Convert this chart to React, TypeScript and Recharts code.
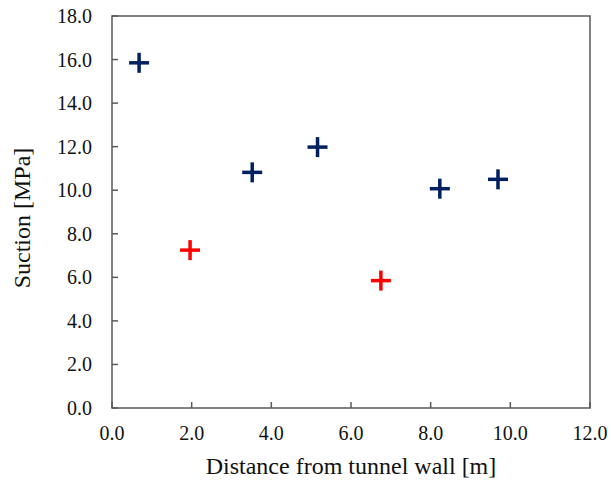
import { ScatterChart, Scatter, XAxis, YAxis, ReferenceArea, Label } from 'recharts';

const X_TICKS = [0, 2, 4, 6, 8, 10, 12];
const Y_TICKS = [0, 2, 4, 6, 8, 10, 12, 14, 16, 18];

const NAVY_X = [0.68, 3.52, 5.16, 8.23, 9.69];
const NAVY_Y = [15.85, 10.82, 11.98, 10.07, 10.5];
const RED_X = [1.96, 6.75];
const RED_Y = [7.25, 5.85];

const navyData = NAVY_X.map((x, i) => ({ x, y: NAVY_Y[i] }));
const redData = RED_X.map((x, i) => ({ x, y: RED_Y[i] }));

const FONT = "'Liberation Serif', 'Times New Roman', serif";
const AXIS_COLOR = '#595959';
const tickStyle = { fontFamily: FONT, fontSize: 20, fill: '#111' };

const plus = (color: string) => (props: any) => {
  const { cx, cy } = props;
  return (
    <g>
      <line x1={cx - 10} y1={cy} x2={cx + 10} y2={cy} stroke={color} strokeWidth={3.5} />
      <line x1={cx} y1={cy - 10} x2={cx} y2={cy + 10} stroke={color} strokeWidth={3.5} />
    </g>
  );
};

// inline style so no stylesheet rule can override the font
const XTick = (props: any) => {
  const { x, y, payload } = props;
  return (
    <text x={x} y={y + 14} textAnchor="middle" style={tickStyle}>
      {Number(payload.value).toFixed(1)}
    </text>
  );
};

const YTick = (props: any) => {
  const { x, y, payload } = props;
  return (
    <text x={x} y={y + 7} textAnchor="end" style={tickStyle}>
      {Number(payload.value).toFixed(1)}
    </text>
  );
};

const App = () => {
  return (
    <div
      style={{ position: 'absolute', left: 0, top: 0, width: 611, height: 483, background: '#fff', fontFamily: FONT }}
    >
      <ScatterChart width={611} height={483} margin={{ top: 16, right: 21, bottom: 0, left: 0 }}>
        <XAxis
          type="number"
          dataKey="x"
          domain={[0, 12]}
          ticks={X_TICKS}
          interval={0}
          height={75}
          tick={XTick}
          tickSize={-6}
          tickMargin={24}
          axisLine={false}
          tickLine={{ stroke: AXIS_COLOR, strokeWidth: 1.5 }}
        >
          <Label
            content={(p: any) => {
              const vb = p.viewBox || {};
              return (
                <text
                  x={vb.x + vb.width / 2}
                  y={474}
                  textAnchor="middle"
                  style={{ fontFamily: FONT, fontSize: 24, fill: '#111' }}
                >
                  Distance from tunnel wall [m]
                </text>
              );
            }}
          />
        </XAxis>
        <YAxis
          type="number"
          dataKey="y"
          domain={[0, 18]}
          ticks={Y_TICKS}
          interval={0}
          width={112}
          tick={YTick}
          tickSize={-6}
          tickMargin={26}
          axisLine={false}
          tickLine={{ stroke: AXIS_COLOR, strokeWidth: 1.5 }}
        >
          <Label
            content={(p: any) => {
              const vb = p.viewBox || {};
              const cy = vb.y + vb.height / 2 + 6;
              return (
                <text
                  x={22}
                  y={cy}
                  transform={`rotate(-90, 22, ${cy})`}
                  textAnchor="middle"
                  dominantBaseline="central"
                  style={{ fontFamily: FONT, fontSize: 24, fill: '#111' }}
                >
                  Suction [MPa]
                </text>
              );
            }}
          />
        </YAxis>
        <ReferenceArea x1={0} x2={12} y1={0} y2={18} fill="none" stroke={AXIS_COLOR} strokeWidth={1.5} fillOpacity={0} />
        <Scatter data={navyData} fill="#002060" shape={plus('#002060')} isAnimationActive={false} />
        <Scatter data={redData} fill="#ff0000" shape={plus('#ff0000')} isAnimationActive={false} />
      </ScatterChart>
    </div>
  );
};

export default App;
